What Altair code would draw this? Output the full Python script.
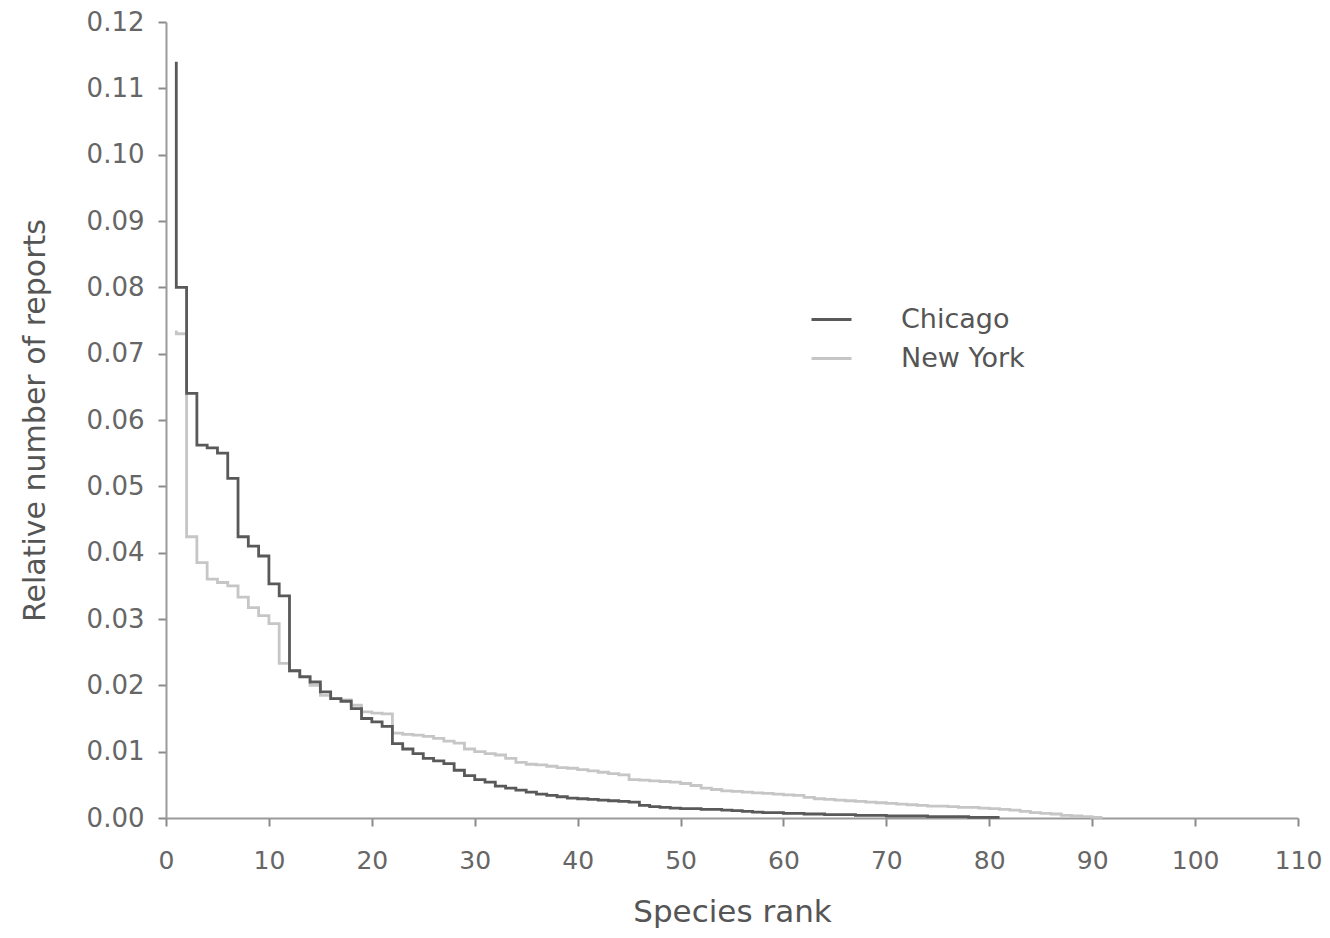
import altair as alt
import pandas as pd

chicago = [
    0.114, 0.080, 0.064, 0.0562, 0.0558, 0.0550, 0.0512, 0.0424, 0.0410, 0.0395,
    0.0353, 0.0335, 0.0222, 0.0213, 0.0205, 0.0190, 0.0180, 0.0176, 0.0165, 0.0150,
    0.0145, 0.0138, 0.0112, 0.0104, 0.0097, 0.0090, 0.0086, 0.0082, 0.0072, 0.0064,
    0.0058, 0.0054, 0.0048, 0.0045, 0.0042, 0.0039, 0.0036, 0.0034, 0.0032, 0.0030,
    0.0029, 0.0028, 0.0027, 0.0026, 0.0025, 0.0024, 0.0019, 0.0017, 0.0016, 0.0015,
    0.0014, 0.0014, 0.0013, 0.0013, 0.0012, 0.0011, 0.0010, 0.0009, 0.0008, 0.0008,
    0.0007, 0.0007, 0.0006, 0.0006, 0.0005, 0.0005, 0.0005, 0.0004, 0.0004, 0.0004,
    0.0003, 0.0003, 0.0003, 0.0003, 0.0002, 0.0002, 0.0002, 0.0002, 0.0001, 0.0001,
    0.0001,
]

new_york = [
    0.0735, 0.0730, 0.0424, 0.0385, 0.0360, 0.0355, 0.0350, 0.0333, 0.0317, 0.0305,
    0.0293, 0.0233, 0.0222, 0.0212, 0.0200, 0.0185, 0.0180, 0.0178, 0.0170, 0.0160,
    0.0158, 0.0157, 0.0128, 0.0126, 0.0125, 0.0123, 0.0120, 0.0116, 0.0113, 0.0104,
    0.0100, 0.0097, 0.0095, 0.0090, 0.0084, 0.0081, 0.0080, 0.0078, 0.0076, 0.0075,
    0.0073, 0.0071, 0.0069, 0.0067, 0.0065, 0.0058, 0.0057, 0.0056, 0.0055, 0.0054,
    0.0052, 0.0049, 0.0045, 0.0043, 0.0041, 0.0040, 0.0039, 0.0038, 0.0037, 0.0036,
    0.0035, 0.0034, 0.0031, 0.0029, 0.0028, 0.0027, 0.0026, 0.0025, 0.0024, 0.0023,
    0.0022, 0.0021, 0.0020, 0.0019, 0.0018, 0.0018, 0.0017, 0.0016, 0.0016, 0.0015,
    0.0014, 0.0013, 0.0012, 0.0010, 0.0008, 0.0007, 0.0006, 0.0004, 0.0003, 0.0002,
    0.0001,
]

cities = ["Chicago", "New York"]
colors = ["#595959", "#c6c6c6"]
x_ticks = list(range(0, 111, 10))
y_ticks = [round(i * 0.01, 2) for i in range(13)]

rows = []
for order, (city, vals) in enumerate([("New York", new_york), ("Chicago", chicago)]):
    for i, v in enumerate(vals):
        rows.append({"rank": i + 1, "value": v, "city": city, "order": order})
df = pd.DataFrame(rows)

FONT = "DejaVu Sans"

lines = alt.Chart(df).mark_line(interpolate="step-before", strokeWidth=2.8).encode(
    x=alt.X("rank:Q",
            scale=alt.Scale(domain=[0, 110], nice=False, zero=True),
            axis=alt.Axis(values=x_ticks, title="Species rank", format="d",
                          labelFlush=False, labelOverlap=False,
                          labelPadding=22, titlePadding=24, labelFontSize=25,
                          titleFontSize=31)),
    y=alt.Y("value:Q",
            scale=alt.Scale(domain=[0, 0.12], nice=False),
            axis=alt.Axis(values=y_ticks, title="Relative number of reports", format=".2f",
                          labelFlush=False, labelOverlap=False,
                          labelPadding=14, titlePadding=36, labelFontSize=26,
                          titleFontSize=30)),
    color=alt.Color("city:N",
                    scale=alt.Scale(domain=cities, range=colors),
                    legend=alt.Legend(title=None, orient="none", legendX=644, legendY=276,
                                      symbolType="stroke", symbolSize=1600,
                                      symbolStrokeWidth=2.8, labelOffset=48,
                                      labelFontSize=27, rowPadding=4,
                                      labelColor="#555555", labelFont=FONT)),
    detail="city:N",
    order=alt.Order("order:Q"),
)

chart = lines.properties(
    width=1132,
    height=796,
    autosize=alt.AutoSizeParams(type="none"),
    padding={"left": 158, "top": 14, "right": 24, "bottom": 112},
).configure_view(stroke=None).configure_axis(
    grid=False,
    domainColor="#9a9a9a",
    domainWidth=2,
    tickColor="#8a8a8a",
    tickWidth=2,
    tickSize=8,
    labelColor="#666666",
    titleColor="#555555",
    labelFont=FONT,
    titleFont=FONT,
    titleFontWeight="normal",
).configure_legend(
    labelFont=FONT,
)

chart.save("out.html", embed_options={"renderer": "svg", "actions": False})
